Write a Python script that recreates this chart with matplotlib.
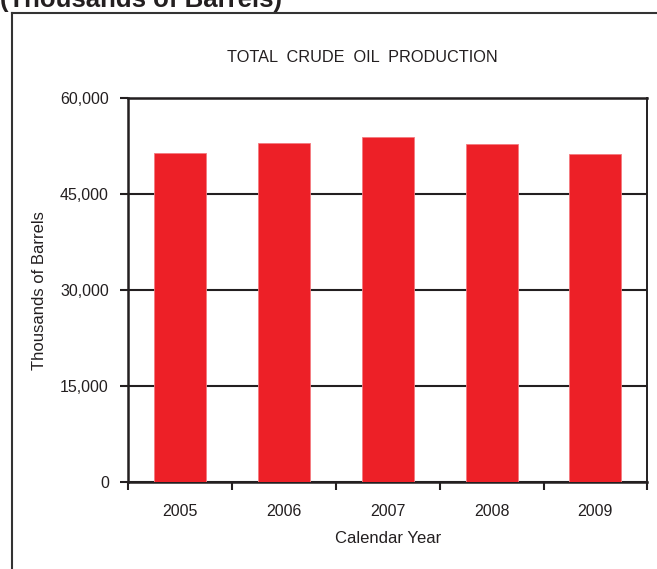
import matplotlib
matplotlib.use("Agg")
import matplotlib.pyplot as plt
from matplotlib.lines import Line2D
from matplotlib.ticker import FuncFormatter, FixedLocator

plt.rcParams['font.family'] = ['Liberation Sans', 'DejaVu Sans']

years = ['2005', '2006', '2007', '2008', '2009']
production = [51450, 52970, 53900, 52900, 51300]
y_ticks = [0, 15000, 30000, 45000, 60000]

ink = '#231f20'
bar_red = '#ed2027'

fig = plt.figure(figsize=(6.57, 5.69), dpi=100)
ax = fig.add_axes([128.3 / 657, 1 - 482.3 / 569, 519 / 657, 384 / 569])

x = list(range(len(years)))
ax.bar(x, production, width=0.5, color=bar_red, edgecolor='#f47a80', linewidth=0.6, zorder=3)

ax.set_xlim(-0.5, len(years) - 0.5)
ax.set_ylim(0, 60000)
ax.set_yticks(y_ticks)
ax.yaxis.set_major_formatter(FuncFormatter(lambda v, p: f'{int(v):,}'))
ax.grid(axis='y', color=ink, linewidth=1.5, zorder=1)

# ticks between categories, labels centred under the bars
ax.xaxis.set_major_locator(FixedLocator([i - 0.5 for i in range(len(years) + 1)]))
ax.xaxis.set_minor_locator(FixedLocator(x))
ax.set_xticklabels([])
ax.set_xticklabels(years, minor=True)
ax.tick_params(axis='x', which='major', length=6, width=1.5, color=ink, direction='out')
ax.tick_params(axis='x', which='minor', length=0, pad=15.5, labelsize=11.5, labelcolor=ink)
ax.tick_params(axis='y', length=6, width=1.5, color=ink, pad=8, labelsize=11.5, labelcolor=ink)

for side in ['left', 'bottom', 'top', 'right']:
    ax.spines[side].set_color(ink)
    ax.spines[side].set_linewidth(1.8)
ax.spines['right'].set_linewidth(1.4)

ax.set_xlabel('Calendar Year', fontsize=12, color=ink, labelpad=8.5)
ax.set_ylabel('Thousands of Barrels', fontsize=12, color=ink, labelpad=9)

fig.text(362 / 657, 1 - 57 / 569, 'TOTAL  CRUDE  OIL  PRODUCTION', ha='center', va='center',
         fontsize=11.7, color=ink)

# outer frame, cut off at the right and bottom edge
fx = 12 / 657
fy = 1 - 13 / 569
fig.add_artist(Line2D([fx, fx], [0, fy], color='#333333', linewidth=1.5))
fig.add_artist(Line2D([fx, 1], [fy, fy], color='#333333', linewidth=1.5))

fig.text(0.0, 1 - 7 / 569, '(Thousands of Barrels)', ha='left', va='baseline',
         fontsize=18.5, fontweight='bold', color=ink)

fig.savefig('out.png', dpi=100)
